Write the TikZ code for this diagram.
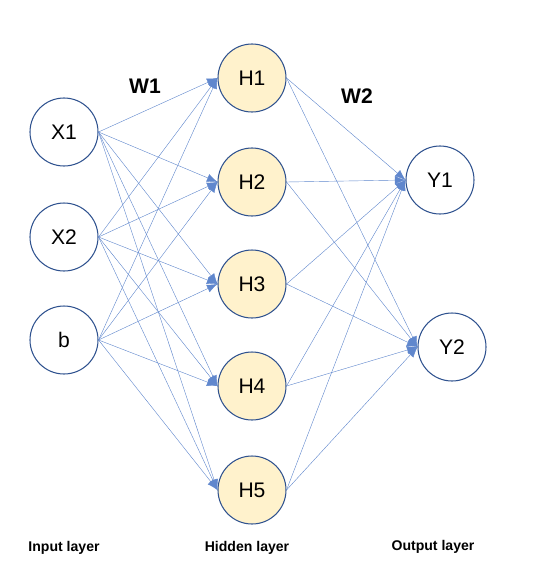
\documentclass[tikz,border=0pt]{standalone}
\usepackage{fontspec}
\setmainfont{Liberation Sans}
\usepackage{xcolor}
\usetikzlibrary{arrows.meta}

\definecolor{ringblue}{HTML}{2F528F}
\definecolor{edgeblue}{HTML}{4472C4}
\definecolor{hiddenfill}{HTML}{FFF2CC}

\tikzset{
  neuron/.style={circle, draw=ringblue, line width=0.9pt, fill=white,
    minimum size=2.04cm, inner sep=0pt, font=\fontsize{18}{20}\selectfont},
  hidden/.style={neuron, fill=hiddenfill},
  link/.style={draw=edgeblue!85, line width=0.35pt,
    -{Latex[length=9pt, width=7pt]}},
  caption/.style={font=\bfseries\fontsize{12}{14}\selectfont},
  weight/.style={font=\bfseries\fontsize{18}{20}\selectfont}
}

\begin{document}
\begin{tikzpicture}[x=0.03cm, y=-0.03cm]
\useasboundingbox (0,0) rectangle (552,582);

% input layer
\node [neuron] (x1) at (64,132) {X1};
\node [neuron] (x2) at (64,237) {X2};
\node [neuron] (b) at (64,340) {b};

% hidden layer
\node [hidden] (h1) at (252,78) {H1};
\node [hidden] (h2) at (252,182) {H2};
\node [hidden] (h3) at (252,284) {H3};
\node [hidden] (h4) at (252,386) {H4};
\node [hidden] (h5) at (252,490) {H5};

% output layer
\node [neuron] (y1) at (440,180) {Y1};
\node [neuron] (y2) at (452,347) {Y2};

% weights
\foreach \i in {x1,x2,b}
  \foreach \j in {h1,h2,h3,h4,h5}
    \draw [link] (\i.east) -- (\j.west);
\foreach \j in {h1,h2,h3,h4,h5}
  \foreach \k in {y1,y2}
    \draw [link] (\j.east) -- (\k.west);

\node [weight] (w1) at (145,86) {W1};
\node [weight] (w2) at (357,96) {W2};

\node [caption] (inlab) at (64,548) {Input layer};
\node [caption] (hidlab) at (247,548) {Hidden layer};
\node [caption] (outlab) at (433,547) {Output layer};

  %\draw [help lines] (0,0) grid (552,582);
\end{tikzpicture}
\end{document}
